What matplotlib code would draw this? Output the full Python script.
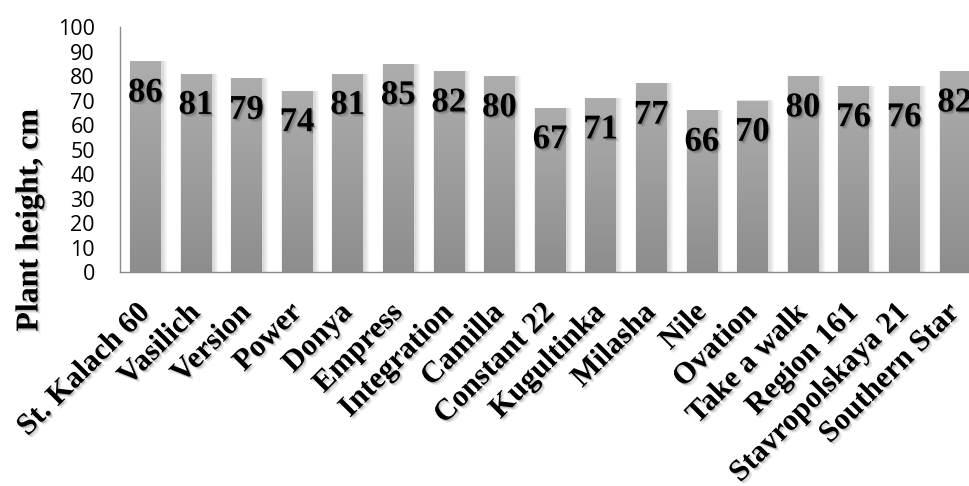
import numpy as np
import matplotlib
matplotlib.use("Agg")
import matplotlib.pyplot as plt
import matplotlib.patheffects as pe
import matplotlib.transforms as mtransforms
from matplotlib.colors import LinearSegmentedColormap
from matplotlib.patches import Rectangle

# сорта и высота растений
varieties = ["St. Kalach 60", "Vasilich", "Version", "Power", "Donya", "Empress",
             "Integration", "Camilla", "Constant 22", "Kugultinka", "Milasha",
             "Nile", "Ovation", "Take a walk", "Region 161", "Stavropolskaya 21",
             "Southern Star"]
heights = [86, 81, 79, 74, 81, 85, 82, 80, 67, 71, 77, 66, 70, 80, 76, 76, 82]
yticks = [0, 10, 20, 30, 40, 50, 60, 70, 80, 90, 100]

serif = ["Liberation Serif", "DejaVu Serif"]
shadow = [pe.SimplePatchShadow(offset=(1.0, -1.0), alpha=0.18, shadow_rgbFace="k"),
          pe.SimplePatchShadow(offset=(2.0, -2.0), alpha=0.1, shadow_rgbFace="k"),
          pe.Normal()]

fig = plt.figure(figsize=(9.7, 4.86), dpi=100)
ax = fig.add_axes([120 / 970, 1 - 272 / 486, 860 / 970, 245 / 486])

grad = LinearSegmentedColormap.from_list("bar", ["#8d8d8d", "#adadad"])
g = np.linspace(0, 1, 256).reshape(-1, 1)
w = 0.6
px = 1 / 50.6  # one pixel in x units
py = 100 / 245  # one pixel in y units

x = np.arange(len(heights))
for xi, h in zip(x, heights):
    # мягкая тень справа
    for k in range(1, 6):
        ax.add_patch(Rectangle((xi - w / 2 + 1.5 * px - k * 0.5 * px, -k * 0.4 * py),
                               w + 1.5 * k * px, h + k * 0.4 * py,
                               facecolor="#404040", edgecolor="none", alpha=0.04,
                               zorder=1))
    im = ax.imshow(g, extent=[xi - w / 2, xi + w / 2, 0, h], origin="lower",
                   aspect="auto", cmap=grad, zorder=2)
    rect = Rectangle((xi - w / 2, 0), w, h, transform=ax.transData,
                     facecolor="none", edgecolor="none")
    ax.add_patch(rect)
    im.set_clip_path(rect)
    ax.text(xi, h - 13, str(h), ha="center", va="center", fontsize=25,
            fontweight="bold", family=serif, color="black", zorder=5,
            path_effects=shadow)

ax.set_xlim(-0.5, len(heights) - 0.5)
ax.set_ylim(0, 100)
ax.set_yticks(yticks)
ax.set_yticklabels([str(t) for t in yticks], fontsize=15.5, family="Open Sans")
ax.set_xticks(x)
ax.set_xticklabels([])
ax.tick_params(axis="y", length=0, pad=18)
ax.tick_params(axis="x", length=0)

# подписи сортов под осью, наклон 45°
shift = mtransforms.ScaledTranslation(-10 / 100, -26 / 100, fig.dpi_scale_trans)
for xi, name in zip(x, varieties):
    ax.text(xi, 0, name, transform=ax.transData + shift, rotation=45,
            rotation_mode="anchor", ha="right", va="top", fontsize=22,
            fontweight="bold", family=serif, clip_on=False, path_effects=shadow)

for s in ["top", "right"]:
    ax.spines[s].set_visible(False)
for s in ["left", "bottom"]:
    ax.spines[s].set_color("#8a8a8a")
    ax.spines[s].set_linewidth(1.0)
    ax.spines[s].set_zorder(6)

fig.text(30 / 970, 1 - 220 / 486, "Plant height, cm", rotation=90, ha="center",
         va="center", fontsize=23, fontweight="bold", family=serif,
         path_effects=shadow)

fig.savefig("out.png", dpi=100)
